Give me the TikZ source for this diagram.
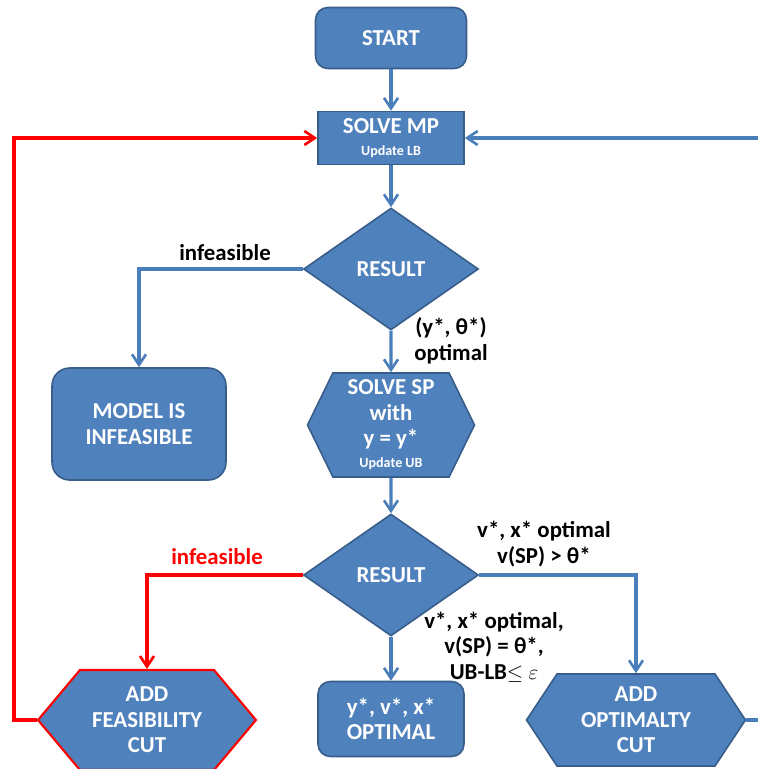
\documentclass[tikz,border=0pt]{standalone}
\usepackage{fontspec}
\setmainfont{Carlito}
\usepackage{tikz}
\usetikzlibrary{shapes.geometric, shapes.symbols, arrows.meta}
\definecolor{boxfill}{HTML}{4F81BD}
\definecolor{boxline}{HTML}{385D8A}
\definecolor{flow}{HTML}{4A7EBB}
\definecolor{redflow}{HTML}{FF0000}
\newcommand{\bigtxt}{\fontsize{13}{14.5}\selectfont\bfseries}
\newcommand{\smalltxt}{\fontsize{8}{10}\selectfont\bfseries}
\tikzset{
  block/.style={draw=boxline, line width=0.9pt, fill=boxfill, text=white,
    font=\bigtxt, align=center, inner sep=0pt},
  startstop/.style={block, rounded corners=7pt},
  process/.style={block},
  decision/.style={block, diamond},
  hexa/.style={block, signal, signal to=west and east},
  line/.style={draw=flow, line width=1.8pt},
  arr/.style={line, -{Straight Barb[length=6pt, width=8pt, line width=1.5pt]}},
  redline/.style={draw=redflow, line width=1.8pt},
  redarr/.style={redline, -{Straight Barb[length=6pt, width=8pt, line width=1.5pt]}},
  lbl/.style={font=\bigtxt, align=center, inner sep=0pt}}

\begin{document}
\begin{tikzpicture}[x=0.02cm, y=-0.02cm]
  \useasboundingbox (0,0) rectangle (758,769);
  % nodes
  \node [startstop, minimum width=3.02cm, minimum height=1.22cm] (start) at (391,38) {START};
  \node [process, minimum width=2.92cm, minimum height=1.06cm] (mp) at (391,138)
    {SOLVE MP\\[-2pt]{\smalltxt Update LB}};
  \node [decision, minimum width=3.5cm, minimum height=2.44cm] (res1) at (391,269) {RESULT};
  \node [startstop, rounded corners=10pt, minimum width=3.48cm, minimum height=2.24cm] (infeas) at (139,424)
    {MODEL IS\\INFEASIBLE};
  \node [hexa, signal pointer angle=128, minimum width=3.34cm, minimum height=2.08cm] (sp) at (391,425)
    {SOLVE SP\\with\\y = y*\\[-2pt]{\smalltxt Update UB}};
  \node [decision, minimum width=3.5cm, minimum height=2.44cm] (res2) at (391,575) {RESULT};
  \node [hexa, draw=redflow, line width=1.2pt, signal pointer angle=100, minimum width=4.36cm, minimum height=2.0cm] (feascut) at (147,720)
    {ADD\\FEASIBILITY\\CUT};
  \node [startstop, minimum width=2.92cm, minimum height=1.5cm] (optimal) at (391,719)
    {y*, v*, x*\\OPTIMAL};
  \node [hexa, signal pointer angle=113, minimum width=4.38cm, minimum height=1.84cm] (optcut) at (636,720)
    {ADD\\OPTIMALTY\\CUT};
  % labels
  \node [lbl] (lblinf) at (225,253) {infeasible};
  \node [lbl] (lblopt) at (451,341) {(y*, θ*)\\optimal};
  \node [lbl, text=redflow] (lblfeas) at (217,557) {infeasible};
  \node [lbl] (lblgt) at (544,544) {v*, x* optimal\\v(SP) > θ*};
  \node [lbl] (lbleq) at (494,647) {v*, x* optimal,\\v(SP) = θ*,\\UB-LB$\leq$ $\varepsilon$};
  % free ends
  \coordinate (edgetop) at (758,138);
  \coordinate (edgebot) at (758,720);
  \coordinate (loopleft) at (14,720);
  % connectors
  \draw [arr] (start) -- (mp);
  \draw [arr] (mp) -- (res1);
  \draw [arr] (res1.west) -| (infeas.north);
  \draw [arr] (res1) -- (sp);
  \draw [arr] (sp) -- (res2);
  \draw [redarr] (res2.west) -| (feascut.north);
  \draw [arr] (res2) -- (optimal);
  \draw [arr] (res2.east) -| (optcut.north);
  \draw [redarr] (feascut.west) -- (loopleft) |- (mp.west);
  \draw [line] (optcut.east) -- (edgebot);
  \draw [arr] (edgetop) -- (mp.east);
\end{tikzpicture}
\end{document}
